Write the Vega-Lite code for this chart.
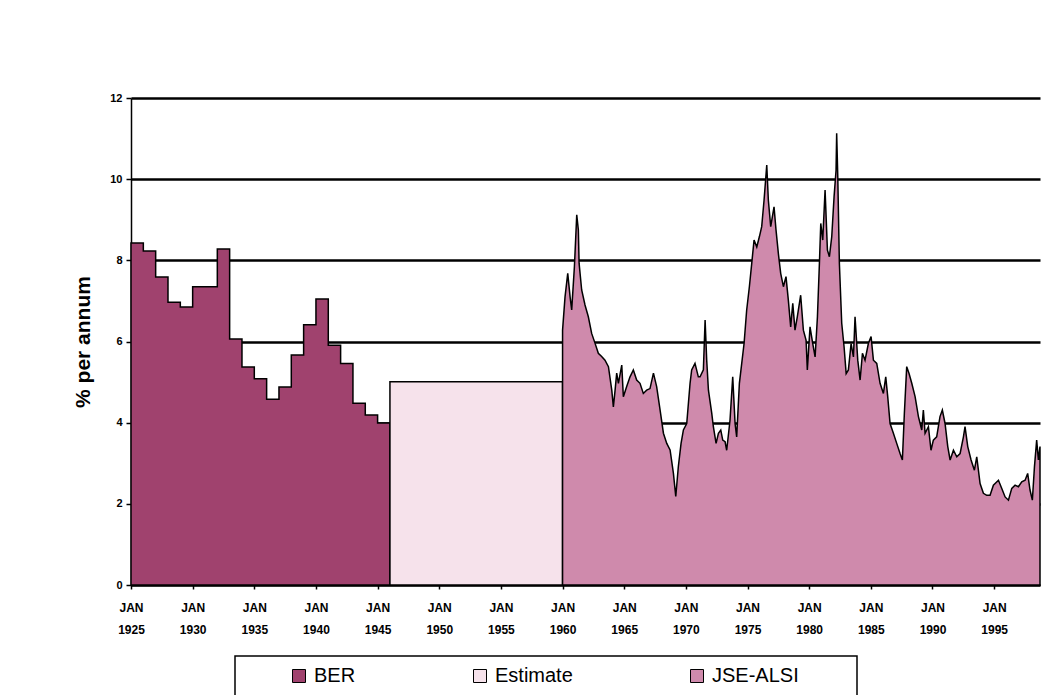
{
  "$schema": "https://vega.github.io/schema/vega-lite/v6.json",
  "width": 909,
  "height": 487,
  "autosize": {"type": "none"},
  "padding": {"left": 131, "top": 98, "right": 22, "bottom": 110},
  "background": "white",
  "config": {"view": {"stroke": null}, "font": "Liberation Sans", "legend": {"strokeWidth": 1.5}},
  "data": {"values": [
    {"series": "BER", "year": 1925, "value": 8.43},
    {"series": "BER", "year": 1926, "value": 8.23},
    {"series": "BER", "year": 1927, "value": 7.59},
    {"series": "BER", "year": 1928, "value": 6.97},
    {"series": "BER", "year": 1929, "value": 6.85},
    {"series": "BER", "year": 1930, "value": 7.35},
    {"series": "BER", "year": 1931, "value": 7.35},
    {"series": "BER", "year": 1932, "value": 8.28},
    {"series": "BER", "year": 1933, "value": 6.06},
    {"series": "BER", "year": 1934, "value": 5.37},
    {"series": "BER", "year": 1935, "value": 5.08},
    {"series": "BER", "year": 1936, "value": 4.58},
    {"series": "BER", "year": 1937, "value": 4.88},
    {"series": "BER", "year": 1938, "value": 5.67},
    {"series": "BER", "year": 1939, "value": 6.41},
    {"series": "BER", "year": 1940, "value": 7.05},
    {"series": "BER", "year": 1941, "value": 5.91},
    {"series": "BER", "year": 1942, "value": 5.46},
    {"series": "BER", "year": 1943, "value": 4.48},
    {"series": "BER", "year": 1944, "value": 4.19},
    {"series": "BER", "year": 1945, "value": 3.99},
    {"series": "BER", "year": 1946, "value": 3.99},
    {"series": "Estimate", "year": 1946, "value": 5.01},
    {"series": "Estimate", "year": 1960, "value": 5.01},
    {"series": "JSE-ALSI", "year": 1960.0, "value": 6.28},
    {"series": "JSE-ALSI", "year": 1960.2, "value": 7.10},
    {"series": "JSE-ALSI", "year": 1960.42, "value": 7.68},
    {"series": "JSE-ALSI", "year": 1960.61, "value": 7.10},
    {"series": "JSE-ALSI", "year": 1960.74, "value": 6.78},
    {"series": "JSE-ALSI", "year": 1960.96, "value": 7.84},
    {"series": "JSE-ALSI", "year": 1961.15, "value": 9.12},
    {"series": "JSE-ALSI", "year": 1961.28, "value": 8.75},
    {"series": "JSE-ALSI", "year": 1961.34, "value": 7.93},
    {"series": "JSE-ALSI", "year": 1961.55, "value": 7.27},
    {"series": "JSE-ALSI", "year": 1961.82, "value": 6.90},
    {"series": "JSE-ALSI", "year": 1962.09, "value": 6.61},
    {"series": "JSE-ALSI", "year": 1962.36, "value": 6.20},
    {"series": "JSE-ALSI", "year": 1962.63, "value": 5.96},
    {"series": "JSE-ALSI", "year": 1962.9, "value": 5.71},
    {"series": "JSE-ALSI", "year": 1963.17, "value": 5.63},
    {"series": "JSE-ALSI", "year": 1963.44, "value": 5.54},
    {"series": "JSE-ALSI", "year": 1963.72, "value": 5.38},
    {"series": "JSE-ALSI", "year": 1963.99, "value": 4.80},
    {"series": "JSE-ALSI", "year": 1964.12, "value": 4.39},
    {"series": "JSE-ALSI", "year": 1964.26, "value": 4.80},
    {"series": "JSE-ALSI", "year": 1964.39, "value": 5.22},
    {"series": "JSE-ALSI", "year": 1964.53, "value": 4.97},
    {"series": "JSE-ALSI", "year": 1964.8, "value": 5.42},
    {"series": "JSE-ALSI", "year": 1964.93, "value": 4.64},
    {"series": "JSE-ALSI", "year": 1965.2, "value": 4.89},
    {"series": "JSE-ALSI", "year": 1965.47, "value": 5.13},
    {"series": "JSE-ALSI", "year": 1965.74, "value": 5.30},
    {"series": "JSE-ALSI", "year": 1966.01, "value": 5.05},
    {"series": "JSE-ALSI", "year": 1966.28, "value": 4.97},
    {"series": "JSE-ALSI", "year": 1966.55, "value": 4.72},
    {"series": "JSE-ALSI", "year": 1966.82, "value": 4.80},
    {"series": "JSE-ALSI", "year": 1967.09, "value": 4.84},
    {"series": "JSE-ALSI", "year": 1967.37, "value": 5.22},
    {"series": "JSE-ALSI", "year": 1967.63, "value": 4.89},
    {"series": "JSE-ALSI", "year": 1967.91, "value": 4.31},
    {"series": "JSE-ALSI", "year": 1968.18, "value": 3.74},
    {"series": "JSE-ALSI", "year": 1968.45, "value": 3.49},
    {"series": "JSE-ALSI", "year": 1968.72, "value": 3.33},
    {"series": "JSE-ALSI", "year": 1968.99, "value": 2.75},
    {"series": "JSE-ALSI", "year": 1969.18, "value": 2.18},
    {"series": "JSE-ALSI", "year": 1969.39, "value": 2.92},
    {"series": "JSE-ALSI", "year": 1969.61, "value": 3.49},
    {"series": "JSE-ALSI", "year": 1969.8, "value": 3.82},
    {"series": "JSE-ALSI", "year": 1970.07, "value": 3.98},
    {"series": "JSE-ALSI", "year": 1970.34, "value": 4.97},
    {"series": "JSE-ALSI", "year": 1970.47, "value": 5.30},
    {"series": "JSE-ALSI", "year": 1970.74, "value": 5.46},
    {"series": "JSE-ALSI", "year": 1971.01, "value": 5.13},
    {"series": "JSE-ALSI", "year": 1971.15, "value": 5.13},
    {"series": "JSE-ALSI", "year": 1971.42, "value": 5.30},
    {"series": "JSE-ALSI", "year": 1971.56, "value": 6.53},
    {"series": "JSE-ALSI", "year": 1971.69, "value": 5.54},
    {"series": "JSE-ALSI", "year": 1971.83, "value": 4.80},
    {"series": "JSE-ALSI", "year": 1972.1, "value": 4.23},
    {"series": "JSE-ALSI", "year": 1972.23, "value": 3.90},
    {"series": "JSE-ALSI", "year": 1972.45, "value": 3.49},
    {"series": "JSE-ALSI", "year": 1972.64, "value": 3.74},
    {"series": "JSE-ALSI", "year": 1972.83, "value": 3.82},
    {"series": "JSE-ALSI", "year": 1972.99, "value": 3.57},
    {"series": "JSE-ALSI", "year": 1973.18, "value": 3.53},
    {"series": "JSE-ALSI", "year": 1973.31, "value": 3.32},
    {"series": "JSE-ALSI", "year": 1973.58, "value": 4.06},
    {"series": "JSE-ALSI", "year": 1973.8, "value": 5.13},
    {"series": "JSE-ALSI", "year": 1973.99, "value": 3.98},
    {"series": "JSE-ALSI", "year": 1974.12, "value": 3.65},
    {"series": "JSE-ALSI", "year": 1974.34, "value": 4.97},
    {"series": "JSE-ALSI", "year": 1974.53, "value": 5.46},
    {"series": "JSE-ALSI", "year": 1974.72, "value": 5.95},
    {"series": "JSE-ALSI", "year": 1974.93, "value": 6.77},
    {"series": "JSE-ALSI", "year": 1975.15, "value": 7.35},
    {"series": "JSE-ALSI", "year": 1975.34, "value": 7.92},
    {"series": "JSE-ALSI", "year": 1975.53, "value": 8.50},
    {"series": "JSE-ALSI", "year": 1975.75, "value": 8.33},
    {"series": "JSE-ALSI", "year": 1975.96, "value": 8.58},
    {"series": "JSE-ALSI", "year": 1976.15, "value": 8.83},
    {"series": "JSE-ALSI", "year": 1976.34, "value": 9.48},
    {"series": "JSE-ALSI", "year": 1976.56, "value": 10.35},
    {"series": "JSE-ALSI", "year": 1976.69, "value": 9.48},
    {"series": "JSE-ALSI", "year": 1976.88, "value": 8.83},
    {"series": "JSE-ALSI", "year": 1977.15, "value": 9.32},
    {"series": "JSE-ALSI", "year": 1977.31, "value": 8.75},
    {"series": "JSE-ALSI", "year": 1977.5, "value": 8.17},
    {"series": "JSE-ALSI", "year": 1977.69, "value": 7.68},
    {"series": "JSE-ALSI", "year": 1977.91, "value": 7.35},
    {"series": "JSE-ALSI", "year": 1978.12, "value": 7.60},
    {"series": "JSE-ALSI", "year": 1978.31, "value": 7.02},
    {"series": "JSE-ALSI", "year": 1978.5, "value": 6.36},
    {"series": "JSE-ALSI", "year": 1978.67, "value": 6.94},
    {"series": "JSE-ALSI", "year": 1978.85, "value": 6.28},
    {"series": "JSE-ALSI", "year": 1979.04, "value": 6.61},
    {"series": "JSE-ALSI", "year": 1979.31, "value": 7.14},
    {"series": "JSE-ALSI", "year": 1979.53, "value": 6.28},
    {"series": "JSE-ALSI", "year": 1979.75, "value": 6.03},
    {"series": "JSE-ALSI", "year": 1979.85, "value": 5.30},
    {"series": "JSE-ALSI", "year": 1980.07, "value": 6.36},
    {"series": "JSE-ALSI", "year": 1980.29, "value": 5.95},
    {"series": "JSE-ALSI", "year": 1980.48, "value": 5.62},
    {"series": "JSE-ALSI", "year": 1980.67, "value": 6.61},
    {"series": "JSE-ALSI", "year": 1980.83, "value": 7.92},
    {"series": "JSE-ALSI", "year": 1980.94, "value": 8.91},
    {"series": "JSE-ALSI", "year": 1981.1, "value": 8.50},
    {"series": "JSE-ALSI", "year": 1981.29, "value": 9.73},
    {"series": "JSE-ALSI", "year": 1981.48, "value": 8.25},
    {"series": "JSE-ALSI", "year": 1981.64, "value": 8.09},
    {"series": "JSE-ALSI", "year": 1981.83, "value": 8.58},
    {"series": "JSE-ALSI", "year": 1982.02, "value": 9.57},
    {"series": "JSE-ALSI", "year": 1982.18, "value": 10.22},
    {"series": "JSE-ALSI", "year": 1982.23, "value": 11.13},
    {"series": "JSE-ALSI", "year": 1982.32, "value": 10.06},
    {"series": "JSE-ALSI", "year": 1982.45, "value": 7.92},
    {"series": "JSE-ALSI", "year": 1982.64, "value": 6.45},
    {"series": "JSE-ALSI", "year": 1982.83, "value": 5.87},
    {"series": "JSE-ALSI", "year": 1983.0, "value": 5.21},
    {"series": "JSE-ALSI", "year": 1983.18, "value": 5.30},
    {"series": "JSE-ALSI", "year": 1983.4, "value": 5.95},
    {"series": "JSE-ALSI", "year": 1983.59, "value": 5.62},
    {"series": "JSE-ALSI", "year": 1983.72, "value": 6.61},
    {"series": "JSE-ALSI", "year": 1983.94, "value": 5.54},
    {"series": "JSE-ALSI", "year": 1984.13, "value": 5.05},
    {"series": "JSE-ALSI", "year": 1984.32, "value": 5.71},
    {"series": "JSE-ALSI", "year": 1984.53, "value": 5.54},
    {"series": "JSE-ALSI", "year": 1984.8, "value": 5.95},
    {"series": "JSE-ALSI", "year": 1985.02, "value": 6.12},
    {"series": "JSE-ALSI", "year": 1985.21, "value": 5.54},
    {"series": "JSE-ALSI", "year": 1985.48, "value": 5.46},
    {"series": "JSE-ALSI", "year": 1985.75, "value": 4.97},
    {"series": "JSE-ALSI", "year": 1986.02, "value": 4.72},
    {"series": "JSE-ALSI", "year": 1986.21, "value": 5.13},
    {"series": "JSE-ALSI", "year": 1986.37, "value": 4.64},
    {"series": "JSE-ALSI", "year": 1986.56, "value": 3.98},
    {"series": "JSE-ALSI", "year": 1986.83, "value": 3.74},
    {"series": "JSE-ALSI", "year": 1987.1, "value": 3.49},
    {"series": "JSE-ALSI", "year": 1987.37, "value": 3.24},
    {"series": "JSE-ALSI", "year": 1987.56, "value": 3.08},
    {"series": "JSE-ALSI", "year": 1987.72, "value": 4.23},
    {"series": "JSE-ALSI", "year": 1987.91, "value": 5.38},
    {"series": "JSE-ALSI", "year": 1988.1, "value": 5.21},
    {"series": "JSE-ALSI", "year": 1988.32, "value": 4.97},
    {"series": "JSE-ALSI", "year": 1988.59, "value": 4.64},
    {"series": "JSE-ALSI", "year": 1988.86, "value": 4.15},
    {"series": "JSE-ALSI", "year": 1989.13, "value": 3.82},
    {"series": "JSE-ALSI", "year": 1989.26, "value": 4.31},
    {"series": "JSE-ALSI", "year": 1989.4, "value": 3.74},
    {"series": "JSE-ALSI", "year": 1989.67, "value": 3.90},
    {"series": "JSE-ALSI", "year": 1989.88, "value": 3.32},
    {"series": "JSE-ALSI", "year": 1990.07, "value": 3.57},
    {"series": "JSE-ALSI", "year": 1990.34, "value": 3.65},
    {"series": "JSE-ALSI", "year": 1990.61, "value": 4.15},
    {"series": "JSE-ALSI", "year": 1990.8, "value": 4.31},
    {"series": "JSE-ALSI", "year": 1991.02, "value": 3.98},
    {"series": "JSE-ALSI", "year": 1991.24, "value": 3.41},
    {"series": "JSE-ALSI", "year": 1991.43, "value": 3.08},
    {"series": "JSE-ALSI", "year": 1991.7, "value": 3.32},
    {"series": "JSE-ALSI", "year": 1991.97, "value": 3.16},
    {"series": "JSE-ALSI", "year": 1992.24, "value": 3.24},
    {"series": "JSE-ALSI", "year": 1992.51, "value": 3.65},
    {"series": "JSE-ALSI", "year": 1992.64, "value": 3.90},
    {"series": "JSE-ALSI", "year": 1992.86, "value": 3.41},
    {"series": "JSE-ALSI", "year": 1993.13, "value": 3.08},
    {"series": "JSE-ALSI", "year": 1993.4, "value": 2.83},
    {"series": "JSE-ALSI", "year": 1993.59, "value": 3.16},
    {"series": "JSE-ALSI", "year": 1993.86, "value": 2.50},
    {"series": "JSE-ALSI", "year": 1994.13, "value": 2.26},
    {"series": "JSE-ALSI", "year": 1994.4, "value": 2.21},
    {"series": "JSE-ALSI", "year": 1994.67, "value": 2.21},
    {"series": "JSE-ALSI", "year": 1994.94, "value": 2.46},
    {"series": "JSE-ALSI", "year": 1995.35, "value": 2.58},
    {"series": "JSE-ALSI", "year": 1995.62, "value": 2.38},
    {"series": "JSE-ALSI", "year": 1995.89, "value": 2.17},
    {"series": "JSE-ALSI", "year": 1996.16, "value": 2.09},
    {"series": "JSE-ALSI", "year": 1996.43, "value": 2.38},
    {"series": "JSE-ALSI", "year": 1996.7, "value": 2.46},
    {"series": "JSE-ALSI", "year": 1996.97, "value": 2.42},
    {"series": "JSE-ALSI", "year": 1997.24, "value": 2.54},
    {"series": "JSE-ALSI", "year": 1997.51, "value": 2.58},
    {"series": "JSE-ALSI", "year": 1997.72, "value": 2.75},
    {"series": "JSE-ALSI", "year": 1997.91, "value": 2.34},
    {"series": "JSE-ALSI", "year": 1998.1, "value": 2.09},
    {"series": "JSE-ALSI", "year": 1998.27, "value": 2.91},
    {"series": "JSE-ALSI", "year": 1998.45, "value": 3.57},
    {"series": "JSE-ALSI", "year": 1998.59, "value": 3.08},
    {"series": "JSE-ALSI", "year": 1998.72, "value": 3.41}
  ]},
  "encoding": {
    "x": {
      "field": "year", "type": "quantitative",
      "scale": {"domain": [1925, 1998.72], "nice": false, "zero": false},
      "axis": {
        "title": null,
        "values": [1925, 1930, 1935, 1940, 1945, 1950, 1955, 1960, 1965, 1970, 1975, 1980, 1985, 1990, 1995],
        "labelExpr": "['JAN', format(datum.value, 'd')]",
        "grid": false,
        "domainColor": "black", "domainWidth": 1.5,
        "tickColor": "black", "tickWidth": 1.5, "tickSize": 4,
        "labelFont": "Liberation Sans", "labelFontWeight": "bold", "labelFontSize": 12,
        "labelColor": "black", "labelLineHeight": 22, "labelPadding": 13,
        "labelFlush": false, "labelOverlap": false, "labelBaseline": "top"
      }
    },
    "y": {
      "field": "value", "type": "quantitative", "stack": null,
      "scale": {"domain": [0, 12], "nice": false},
      "axis": {
        "title": "% per annum",
        "titleFont": "Liberation Sans", "titleFontSize": 21, "titleFontWeight": "bold", "titleColor": "black",
        "titlePadding": 16,
        "values": [0, 2, 4, 6, 8, 10, 12],
        "grid": true, "gridColor": "black", "gridWidth": 2.5, "gridOpacity": 1,
        "domainColor": "black", "domainWidth": 1.5,
        "tickColor": "black", "tickWidth": 1.5, "tickSize": 5,
        "labelFont": "Liberation Sans", "labelFontWeight": "bold", "labelFontSize": 11,
        "labelColor": "black", "labelPadding": 4
      }
    },
    "color": {
      "field": "series", "type": "nominal",
      "scale": {"domain": ["BER", "Estimate", "JSE-ALSI"], "range": ["#a0426e", "#f6e2eb", "#cf8aac"]},
      "legend": {
        "orient": "none", "legendX": 104, "legendY": 558, "direction": "horizontal",
        "title": " ", "titleOrient": "right", "titlePadding": 48, "titleFontSize": 20,
        "strokeColor": "black", "fillColor": "white", "padding": 10,
        "symbolType": "square", "symbolSize": 169, "symbolStrokeColor": "black", "symbolStrokeWidth": 1,
        "symbolOpacity": 1, "symbolOffset": 44, "labelOffset": 5, "columnPadding": 70,
        "labelFont": "Liberation Sans", "labelFontSize": 20, "labelColor": "black", "labelLimit": 300
      }
    }
  },
  "layer": [
    {
      "transform": [{"filter": "datum.series === 'BER'"}],
      "mark": {"type": "area", "interpolate": "step-after", "stroke": "black", "strokeWidth": 1.5, "opacity": 1}
    },
    {
      "transform": [{"filter": "datum.series === 'Estimate'"}],
      "mark": {"type": "area", "stroke": "black", "strokeWidth": 1.5, "opacity": 1}
    },
    {
      "transform": [{"filter": "datum.series === 'JSE-ALSI'"}],
      "mark": {"type": "area", "stroke": "black", "strokeWidth": 1.5, "opacity": 1}
    }
  ]
}
